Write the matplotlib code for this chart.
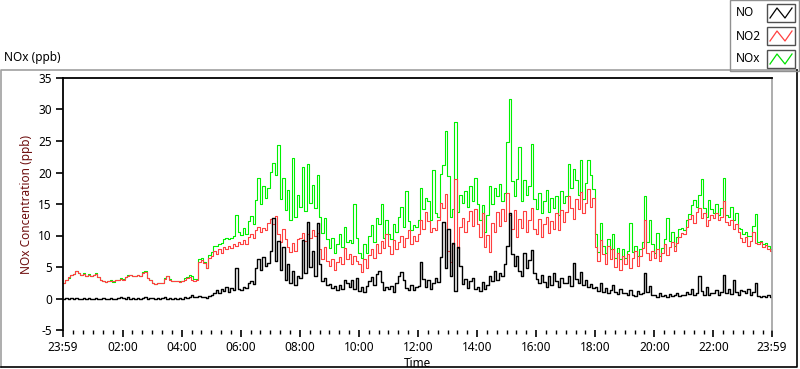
import matplotlib.pyplot as plt
import numpy as np
from matplotlib.patches import Rectangle
from matplotlib.lines import Line2D

# 5-minute readings, 23:59 -> 23:59 (ppb)
no2 = [
    2.5, 2.9, 3.4, 3.7, 3.9, 4.3, 4.0, 3.8, 3.9, 3.6, 3.8, 3.6,
    3.7, 3.9, 3.4, 3.0, 2.7, 2.6, 2.7, 2.8, 2.7, 3.0, 2.9, 3.1,
    3.0, 3.4, 3.6, 3.8, 3.5, 3.6, 3.7, 3.6, 4.1, 4.2, 3.3, 2.9,
    2.4, 2.3, 2.4, 2.5, 2.4, 3.1, 3.6, 3.0, 2.8, 2.7, 2.8, 2.6,
    2.8, 3.0, 3.3, 3.4, 3.0, 2.8, 2.9, 5.8, 6.1, 5.6, 4.8, 6.5,
    6.8, 7.5, 7.0, 7.9, 7.3, 8.2, 7.8, 8.4, 8.0, 8.6, 8.3, 9.0,
    8.7, 9.3, 8.6, 9.8, 10.3, 9.6, 10.9, 11.3, 10.5, 11.2, 10.8, 12.0,
    12.6, 11.8, 13.1, 10.2, 9.0, 11.0, 9.5, 8.2, 7.4, 8.8, 7.6, 9.4,
    9.6, 10.4, 9.1, 10.2, 9.6, 10.8, 9.9, 10.4, 7.8, 6.2, 8.1, 5.9,
    5.2, 6.3, 4.6, 5.8, 6.6, 5.4, 8.0, 6.2, 7.0, 5.4, 6.8, 5.9,
    5.5, 4.2, 6.2, 4.8, 6.9, 7.8, 6.4, 8.6, 7.2, 9.1, 8.0, 10.2,
    8.4, 7.1, 9.3, 7.8, 8.9, 10.0, 8.2, 9.6, 10.8, 8.6, 9.9, 9.2,
    10.2, 12.5, 11.0, 13.8, 12.3, 10.6, 11.2, 10.8, 12.4, 15.2, 14.4, 16.6,
    7.5, 5.8, 8.6, 19.0, 8.0, 11.4, 12.8, 10.6, 12.3, 13.9, 11.5, 14.2,
    11.8, 9.8, 13.6, 8.2, 10.1, 7.4, 12.0, 10.6, 13.8, 11.5, 14.2, 12.3,
    16.8, 13.2, 11.0, 14.0, 9.8, 12.6, 11.2, 13.9, 10.6, 12.4, 14.3, 11.0,
    10.2, 12.6, 9.8, 11.8, 13.0, 10.4, 12.3, 11.0, 13.6, 10.8, 14.0, 12.1,
    13.8, 16.2, 14.4, 12.6, 15.8, 14.2, 16.9, 13.5, 15.2, 17.4, 14.6, 15.9,
    8.2, 6.0, 9.3, 7.1, 5.5, 8.4, 6.3, 7.8, 5.0, 7.2, 4.6, 6.8,
    5.4, 7.0, 4.8, 6.5, 7.6, 5.2, 6.8, 8.0, 12.4, 7.2, 6.1, 7.5,
    6.4, 7.8, 6.0, 7.3, 8.6, 6.9, 8.2, 9.0, 7.5, 8.8, 9.8, 10.4,
    10.2, 11.4, 12.6, 13.2, 12.0, 13.8, 14.4, 12.8, 13.6, 11.5, 12.4, 13.3,
    12.8, 13.5, 12.4, 13.0, 15.5, 12.2, 11.6, 12.4, 11.0, 11.8, 10.5, 9.6,
    9.0, 9.8, 8.4, 9.2, 10.5, 8.8, 8.6, 8.9, 8.2, 8.5, 7.9, 7.6,
    7.4,
]

no = [
    0.0, 0.1, -0.1, 0.1, 0.0, 0.1, 0.0, -0.1, 0.1, 0.0, 0.1, 0.0,
    0.0, 0.1, 0.0, -0.1, 0.1, 0.0, 0.0, 0.1, -0.1, 0.0, 0.1, 0.2,
    0.1, 0.0, 0.2, 0.0, 0.1, -0.1, 0.1, 0.0, 0.1, 0.2, 0.0, 0.1,
    0.1, 0.0, 0.1, 0.0, 0.1, 0.2, 0.0, 0.1, 0.0, 0.1, 0.0, 0.1,
    0.0, 0.2, 0.1, 0.3, 0.6, 0.3, 0.2, 0.4, 0.3, 0.2, 0.1, 0.4,
    0.6, 0.9, 1.3, 0.8, 1.5, 1.2, 1.8, 1.0, 1.6, 1.3, 4.9, 1.5,
    1.4, 1.9, 1.6, 2.5, 2.8, 2.3, 4.8, 6.3, 4.5, 6.6, 5.2, 5.6,
    7.5, 12.8, 6.0, 9.2, 4.5, 8.1, 3.0, 5.4, 2.4, 4.3, 2.2, 3.6,
    3.2, 9.3, 4.1, 12.2, 5.0, 7.6, 3.6, 12.0, 5.5, 2.8, 3.3, 2.1,
    2.3, 1.6, 2.0, 1.3, 2.2, 1.5, 3.0, 2.4, 1.8, 2.9, 1.5, 3.2,
    1.2, 1.8, 1.0, 2.0, 2.8, 3.4, 2.2, 3.9, 4.4, 2.6, 1.4, 1.9,
    1.5, 2.0, 1.1, 2.5, 3.6, 4.2, 2.9, 1.7, 1.3, 2.1, 1.4, 1.8,
    2.0, 5.8, 3.1, 1.8, 2.9, 1.5, 2.4, 3.3, 2.6, 6.6, 12.2, 4.8,
    11.0, 3.5, 8.8, 1.2, 8.1, 5.2, 2.3, 3.1, 1.6, 2.7, 3.3, 1.5,
    1.8, 1.2, 2.6, 1.5, 2.1, 3.6, 2.8, 4.4, 3.0, 4.1, 3.5, 5.4,
    8.4, 13.5, 7.0, 5.2, 6.8, 4.3, 3.6, 7.2, 4.8, 6.1, 7.7, 4.0,
    3.1, 2.4, 3.8, 2.6, 1.9, 3.5, 2.2, 4.0, 2.7, 1.8, 3.2, 2.5,
    2.4, 3.6, 2.0, 5.6, 3.1, 2.5, 4.2, 2.2, 3.0, 1.8, 2.3, 1.6,
    1.9, 1.2, 2.4, 1.0, 1.6, 0.8, 1.3, 2.2, 1.0, 0.7, 1.5, 0.9,
    0.8, 0.5, 1.4, 0.6, 0.4, 1.2, 0.7, 0.9, 4.0, 1.1, 2.0, 0.6,
    0.5, 0.3, 0.8, 0.4, 0.6, 0.3, 0.7, 0.4, 0.5, 0.9, 0.4, 0.6,
    0.5, 1.0, 0.7, 1.5, 0.6, 0.8, 3.5, 1.2, 0.6, 1.8, 0.5, 0.9,
    0.8, 1.4, 0.6, 1.1, 3.7, 0.9, 1.5, 0.7, 2.9, 1.0, 0.6, 1.3,
    1.2, 0.8, 1.5, 0.6, 1.0, 2.5, 0.4, 0.3, 0.4, 0.3, 0.5, 0.3,
    0.3,
]

nox = [
    2.5, 3.0, 3.3, 3.8, 3.9, 4.4, 4.0, 3.7, 4.0, 3.6, 3.9, 3.6,
    3.7, 4.0, 3.4, 2.9, 2.8, 2.6, 2.7, 2.9, 2.6, 3.0, 3.0, 3.3,
    3.1, 3.4, 3.8, 3.8, 3.6, 3.5, 3.8, 3.6, 4.2, 4.4, 3.3, 3.0,
    2.5, 2.3, 2.5, 2.5, 2.5, 3.3, 3.6, 3.1, 2.8, 2.8, 2.8, 2.7,
    2.8, 3.2, 3.4, 3.7, 3.6, 3.1, 3.1, 6.2, 6.4, 5.8, 4.9, 6.9,
    7.4, 8.4, 8.3, 8.7, 8.8, 9.4, 9.6, 9.4, 9.6, 9.9, 13.2, 10.5,
    10.1, 11.2, 10.2, 12.3, 13.1, 11.9, 15.7, 19.2, 15.0, 17.8, 16.0, 17.6,
    20.1, 21.5, 19.6, 24.3, 15.8, 19.1, 14.0, 17.2, 12.5, 22.3, 13.0, 16.4,
    14.6, 20.8, 13.9, 21.4, 15.2, 18.0, 14.3, 19.6, 13.0, 10.4, 12.8, 9.5,
    8.0, 9.6, 7.2, 8.6, 10.2, 8.1, 11.4, 9.0, 9.3, 8.8, 15.0, 9.6,
    7.2, 6.4, 8.6, 7.3, 9.9, 11.6, 9.0, 12.8, 11.8, 15.0, 9.6, 12.4,
    10.2, 9.5, 11.8, 10.6, 12.9, 14.6, 11.4, 17.0, 12.3, 10.8, 11.7, 11.4,
    12.5, 17.5, 14.2, 16.0, 15.4, 12.4, 20.4, 13.5, 12.9, 19.8, 21.2, 26.6,
    19.5, 13.0, 14.2, 28.0, 13.8, 16.5, 15.1, 17.0, 14.6, 17.8, 15.5, 19.2,
    15.0, 12.4, 14.8, 10.6, 13.2, 17.8, 15.0, 17.6, 16.2, 18.1, 15.4, 16.8,
    24.8, 31.6, 18.6, 16.2, 19.0, 24.0, 15.4, 18.8, 16.5, 17.9, 24.6, 15.8,
    14.2, 16.8, 13.5, 15.4, 17.2, 13.8, 16.0, 14.4, 16.3, 13.2, 17.0, 15.1,
    16.2, 21.4, 17.6, 20.5, 18.8, 16.4, 22.0, 15.8, 18.4, 22.0, 19.6, 17.4,
    10.2, 7.4, 12.0, 8.3, 7.2, 9.5, 7.8, 10.2, 6.4, 8.0, 6.2, 7.9,
    6.4, 7.6, 12.0, 7.4, 8.3, 6.8, 7.9, 9.0, 16.3, 8.9, 12.4, 8.6,
    7.2, 10.4, 6.8, 8.0, 9.4, 12.8, 9.2, 10.6, 8.4, 9.8, 11.0, 11.2,
    10.8, 12.5, 13.4, 14.8, 15.6, 14.6, 16.4, 19.0, 14.4, 13.0, 15.6, 14.2,
    13.6, 15.0, 13.2, 14.3, 19.1, 13.2, 13.0, 14.6, 12.5, 13.6, 11.2, 11.0,
    10.2, 10.6, 9.9, 10.0, 11.5, 13.4, 9.0, 9.2, 8.6, 8.8, 8.4, 7.9,
    7.6,
]

# minutes after midnight, starting at 23:59 the day before
t = np.arange(len(no2)) * 5 - 1

major_ticks = [-1, 120, 240, 360, 480, 600, 720, 840, 960, 1080, 1200, 1320, 1439]
major_labels = ["23:59", "02:00", "04:00", "06:00", "08:00", "10:00", "12:00",
                "14:00", "16:00", "18:00", "20:00", "22:00", "23:59"]

plt.rcParams['font.family'] = ['Noto Sans', 'DejaVu Sans']
plt.rcParams['axes.unicode_minus'] = False

W, H = 800, 369
fig = plt.figure(figsize=(W / 100, H / 100), dpi=100, facecolor='white')
ax = fig.add_axes([63 / W, 1 - 330 / H, 709 / W, 252 / H])

# LabVIEW-style stepped traces
ax.plot(t, nox, color='#00f000', lw=0.8, drawstyle='steps-post')
ax.plot(t, no2, color='#ff4040', lw=0.8, drawstyle='steps-post')
ax.plot(t, no, color='black', lw=1.0, drawstyle='steps-post')

ax.set_xlim(-1, 1439)
ax.set_ylim(-5, 35)
ax.set_yticks(range(-5, 36, 5))
ax.set_xticks(major_ticks)
ax.set_xticklabels(major_labels)
ax.set_xticks(np.arange(20, 1439, 20), minor=True)
ax.tick_params(axis='both', which='major', labelsize=8.5, length=5, width=1.2,
               color='black', pad=3)
ax.tick_params(axis='x', which='minor', length=3, width=1.0)

for side in ['top', 'left']:
    ax.spines[side].set_linewidth(1.3)
    ax.spines[side].set_color('black')
ax.spines['right'].set_color('#a0a0a0')
ax.spines['right'].set_linewidth(1.2)
ax.spines['bottom'].set_visible(False)

ax.set_ylabel("NOx Concentration (ppb)", color='#6e0e0e', fontsize=8.5, labelpad=4)
ax.set_xlabel("Time", fontsize=8.5, labelpad=2)

# overlay in pixel coordinates for the frame, title and legend
ov = fig.add_axes([0, 0, 1, 1], zorder=-1)
ov.set_xlim(0, W)
ov.set_ylim(H, 0)
ov.axis('off')
ov.plot([0.5, 0.5, 797], [367, 69.5, 69.5], color='#a0a0a0', lw=1.2)
ov.plot([0.5, 797, 797], [367, 367, 69.5], color='black', lw=1.2)
ov.text(4, 58, "NOx (ppb)", fontsize=8.5, va='center', ha='left')

leg = fig.add_axes([0, 0, 1, 1], zorder=5)
leg.set_xlim(0, W)
leg.set_ylim(H, 0)
leg.axis('off')
leg.add_patch(Rectangle((730, 0), 69, 71, fill=False, edgecolor='#909090', lw=1.0))
names = ["NO", "NO2", "NOx"]
colors = ['black', '#ff4040', '#00e000']
for k, (name, c) in enumerate(zip(names, colors)):
    yc = 13 + k * 23
    leg.text(736, yc, name, fontsize=8.5, va='center', ha='left')
    leg.add_patch(Rectangle((767, yc - 9), 28, 18, fill=False, edgecolor='#505050', lw=1.0))
    leg.add_line(Line2D([770, 777, 785, 792], [yc + 5, yc - 5, yc + 5, yc - 5], color=c, lw=0.9))

fig.savefig("out.png", dpi=100)
